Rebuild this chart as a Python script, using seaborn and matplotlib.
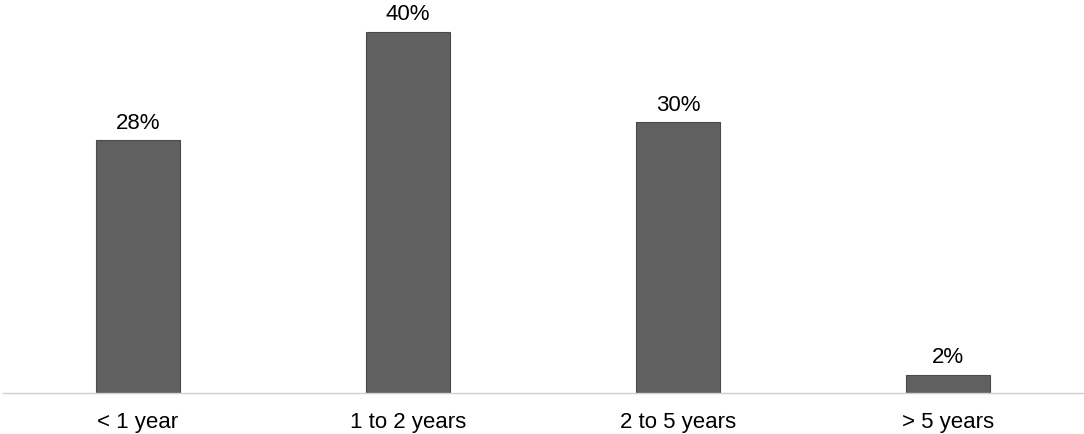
import matplotlib
matplotlib.use("Agg")
import matplotlib.pyplot as plt
import seaborn as sns
import pandas as pd

categories = ["< 1 year", "1 to 2 years", "2 to 5 years", "> 5 years"]
values = [28, 40, 30, 2]
labels = ["28%", "40%", "30%", "2%"]

sns.set_theme(style="white")
plt.rcParams["font.family"] = ["Liberation Sans", "DejaVu Sans"]

df = pd.DataFrame({"cat": categories, "val": values})

fig = plt.figure(figsize=(10.84, 4.35), dpi=100)
ax = fig.add_axes([3 / 1084, (435 - 393.7) / 435, 1080 / 1084, 393.7 / 435])

sns.barplot(data=df, x="cat", y="val", color="#606060", width=0.31,
            edgecolor="#4a4a4a", linewidth=0.8, saturation=1, ax=ax)

ax.set_xlim(-0.5, 3.5)
ax.set_ylim(0, 40 * 393.7 / 360.7)

for i, (v, lab) in enumerate(zip(values, labels)):
    ax.annotate(lab, (i, v), xytext=(0, 5.5), textcoords="offset points",
                ha="center", va="bottom", fontsize=16, color="#000000",
                annotation_clip=False)

for s in ["top", "right", "left"]:
    ax.spines[s].set_visible(False)
ax.spines["bottom"].set_color("#d0d0d0")
ax.spines["bottom"].set_linewidth(1.0)
ax.set_yticks([])
ax.set_xlabel("")
ax.set_ylabel("")
ax.tick_params(axis="x", length=0, pad=13.5, labelsize=16, labelcolor="#000000")

fig.savefig("out.png", dpi=100)
